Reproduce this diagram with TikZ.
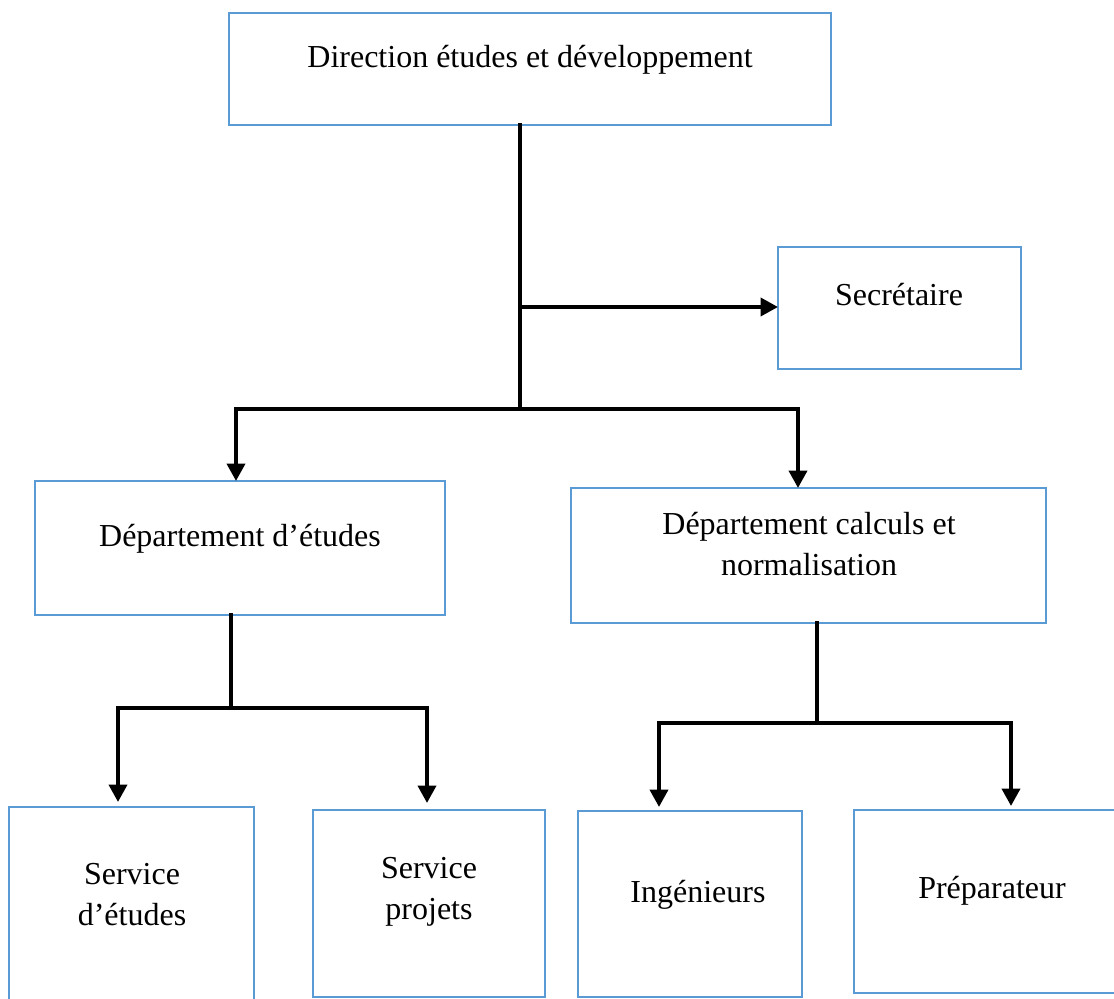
\documentclass[tikz,border=0pt]{standalone}
\usepackage{fontspec}
\setmainfont{Liberation Serif}
\usetikzlibrary{arrows.meta,fit}
\begin{document}
\begin{tikzpicture}[x=0.4pt,y=-0.4pt,
  box/.style={draw={rgb,255:red,91;green,155;blue,213},line width=0.8pt,inner sep=0pt,outer sep=0pt,rectangle},
  txt/.style={font=\fontsize{12.8}{16.4}\selectfont,align=center,inner sep=0pt},
  link/.style={line width=1.6pt,line cap=rect},
  arr/.style={line width=1.6pt,-{Triangle[width=7.2pt,length=7pt]}}]
\path[use as bounding box,clip] (0,0) rectangle (1114,999);
% boxes
\node[box,fit={(229,13) (831,125)}] (dir) {};
\node[box,fit={(778,247) (1021,369)}] (sec) {};
\node[box,fit={(35,481) (445,615)}] (de) {};
\node[box,fit={(571,488) (1046,623)}] (dc) {};
\node[box,fit={(9,807) (254,1010)}] (se) {};
\node[box,fit={(313,810) (545,997)}] (sp) {};
\node[box,fit={(578,811) (802,997)}] (ing) {};
\node[box,fit={(854,810) (1130,993)}] (prep) {};
% texts
\node[txt,anchor=base] (dirt) at (530,68) {Direction études et développement};
\node[txt,anchor=base] (sect) at (899,306) {Secrétaire};
\node[txt,anchor=base] (det) at (240,546) {Département d’études};
\node[txt] (dct) at (809,544) {Département calculs et\\normalisation};
\node[txt] (set) at (132,895) {Service\\d’études};
\node[txt] (spt) at (429,892) {Service\\projets};
\node[txt,anchor=base] (ingt) at (698,902) {Ingénieurs};
\node[txt,anchor=base] (prept) at (992,898) {Préparateur};
% junctions
\coordinate (j0) at (520,409);
\coordinate (js) at (520,307);
\coordinate (jL) at (236,409);
\coordinate (jR) at (798,409);
\coordinate (k0) at (231,708);
\coordinate (kL) at (118,708);
\coordinate (kR) at (427,708);
\coordinate (m0) at (817,723);
\coordinate (mL) at (659,723);
\coordinate (mR) at (1011,723);
% connectors
\draw[link] (dir.south -| j0) -- (j0);
\draw[arr] (js) -- (sec.west |- js);
\draw[link] (jL) -- (jR);
\draw[arr] (jL) -- (de.north -| jL);
\draw[arr] (jR) -- (dc.north -| jR);
\draw[link] (de.south -| k0) -- (k0);
\draw[link] (kL) -- (kR);
\draw[arr] (kL) -- ([yshift=2pt]se.north -| kL);
\draw[arr] (kR) -- ([yshift=2.8pt]sp.north -| kR);
\draw[link] (dc.south -| m0) -- (m0);
\draw[link] (mL) -- (mR);
\draw[arr] (mL) -- ([yshift=1.6pt]ing.north -| mL);
\draw[arr] (mR) -- ([yshift=1.6pt]prep.north -| mR);
\end{tikzpicture}
\end{document}
